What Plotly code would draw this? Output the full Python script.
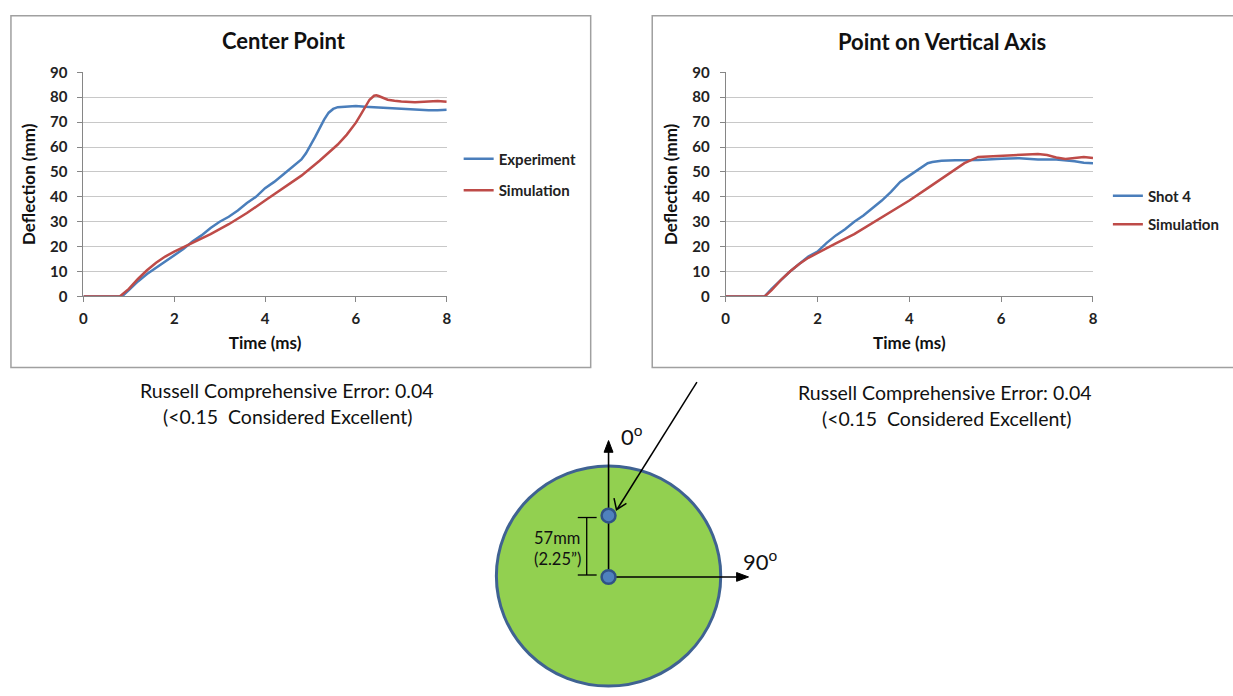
import plotly.graph_objects as go

W, H = 1233, 696

# ---------------- data ----------------
center_exp_t = [0, 0.4, 0.85, 1.0, 1.2, 1.4, 1.6, 1.8, 2.0, 2.2, 2.4, 2.6, 2.8, 3.0, 3.2, 3.4, 3.6, 3.8,
                4.0, 4.2, 4.4, 4.6, 4.8, 4.9, 5.0, 5.1, 5.2, 5.3, 5.4, 5.5, 5.6, 5.8, 6.0, 6.2, 6.4, 6.6,
                6.8, 7.0, 7.2, 7.4, 7.6, 7.8, 8.0]
center_exp_d = [0, 0, 0, 2.5, 6, 9, 11.5, 14, 16.5, 19, 22, 24.5, 27.5, 30, 32, 34.5, 37.5, 40,
                43.5, 46, 49, 52, 55, 57.5, 60.5, 64, 67.5, 71, 73.8, 75.3, 76, 76.3, 76.5, 76.2, 76, 75.8,
                75.5, 75.2, 75, 75, 74.8, 74.8, 75]
center_sim_t = [0, 0.4, 0.8, 1.0, 1.2, 1.4, 1.6, 1.8, 2.0, 2.4, 2.8, 3.2, 3.6, 4.0, 4.4, 4.8, 5.2,
                5.6, 5.8, 6.0, 6.1, 6.2, 6.3, 6.4, 6.45, 6.5, 6.6, 6.7, 6.85, 7.0, 7.3, 7.6, 7.8, 8.0]
center_sim_d = [0, 0, 0, 3, 7, 10.5, 13.5, 16, 18, 21.5, 25, 29, 33.5, 38.5, 43.5, 48.5, 54.5,
                61, 65, 69.8, 72.8, 76, 79, 80.6, 80.8, 80.5, 79.7, 79, 78.6, 78.3, 78, 78.3, 78.5, 78.2]

vert_exp_t = [0, 0.4, 0.85, 1.0, 1.2, 1.4, 1.6, 1.8, 2.0, 2.2, 2.4, 2.6, 2.8, 3.0, 3.2, 3.4, 3.6, 3.8,
              4.0, 4.2, 4.4, 4.5, 4.7, 5.0, 5.5, 6.0, 6.4, 6.8, 7.2, 7.6, 7.8, 8.0]
vert_exp_d = [0, 0, 0, 3, 6.5, 10, 13, 16, 18, 21.5, 24.5, 27, 30, 32.5, 35.5, 38.5, 42, 46,
              48.5, 51, 53.5, 54, 54.5, 54.7, 54.8, 55.3, 55.5, 55, 55, 54.3, 53.7, 53.5]
vert_sim_t = [0, 0.4, 0.85, 1.0, 1.2, 1.4, 1.6, 1.8, 2.0, 2.4, 2.8, 3.2, 3.6, 4.0, 4.4, 4.8,
              5.2, 5.5, 5.8, 6.2, 6.5, 6.8, 7.0, 7.2, 7.4, 7.6, 7.8, 8.0]
vert_sim_d = [0, 0, 0, 2.5, 6.5, 10, 13, 15.5, 17.5, 21.3, 25, 29.5, 34, 38.5, 43.5, 48.5,
              53.5, 56, 56.3, 56.5, 56.8, 57.2, 56.8, 55.8, 55.2, 55.5, 56, 55.6]

x_ticks = [0, 2, 4, 6, 8]
y_ticks = [0, 10, 20, 30, 40, 50, 60, 70, 80, 90]

BLUE = "#4a7ebb"
RED = "#be4b48"
FONT = "Lato"


def px(x):
    return x / W


def py(y):
    return 1 - y / H


fig = go.Figure()

fig.add_trace(go.Scatter(x=center_exp_t, y=center_exp_d, mode="lines", name="Experiment",
                         line=dict(color=BLUE, width=2.5), xaxis="x", yaxis="y",
                         legend="legend", legendgroup="a"))
fig.add_trace(go.Scatter(x=center_sim_t, y=center_sim_d, mode="lines", name="Simulation",
                         line=dict(color=RED, width=2.5), xaxis="x", yaxis="y",
                         legend="legend", legendgroup="b"))
fig.add_trace(go.Scatter(x=vert_exp_t, y=vert_exp_d, mode="lines", name="Shot 4",
                         line=dict(color=BLUE, width=2.5), xaxis="x2", yaxis="y2",
                         legend="legend2", legendgroup="c"))
fig.add_trace(go.Scatter(x=vert_sim_t, y=vert_sim_d, mode="lines", name="Simulation",
                         line=dict(color=RED, width=2.5), xaxis="x2", yaxis="y2",
                         legend="legend2", legendgroup="d"))

tickfont = dict(family=FONT, size=15, color="#222", weight="bold")
titlefont = dict(family=FONT, size=17, color="#111", weight="bold")

def xax(domain, anchor):
    return dict(domain=domain, anchor=anchor, range=[0, 8], tickvals=x_ticks,
                showgrid=False, zeroline=False, showline=True, linecolor="#868686", linewidth=1,
                ticks="outside", ticklen=5, tickcolor="#868686", tickfont=tickfont,
                ticklabelstandoff=4,
                title=dict(text="Time (ms)", font=titlefont, standoff=10), fixedrange=True)

def yax(domain, anchor):
    return dict(domain=domain, anchor=anchor, range=[0, 90], tickvals=y_ticks,
                showgrid=True, gridcolor="#c8c8c8", gridwidth=1, zeroline=False,
                showline=True, linecolor="#868686", linewidth=1,
                ticks="outside", ticklen=5, tickcolor="#868686", tickfont=tickfont,
                ticklabelstandoff=7,
                title=dict(text="Deflection (mm)", font=titlefont, standoff=10), fixedrange=True)

ydom = [py(294), py(64)]
fig.update_layout(
    width=W, height=H, margin=dict(l=0, r=0, t=0, b=0),
    paper_bgcolor="white", plot_bgcolor="white",
    font=dict(family=FONT),
    xaxis=xax([px(80), px(446)], "y"),
    yaxis=yax(ydom, "x"),
    xaxis2=xax([px(727), px(1097)], "y2"),
    yaxis2=yax(ydom, "x2"),
    legend=dict(x=px(458), y=py(136), xanchor="left", yanchor="top",
                font=dict(family=FONT, size=15, color="#222", weight="bold"),
                tracegroupgap=9, bgcolor="rgba(0,0,0,0)", itemwidth=30),
    legend2=dict(x=px(1112), y=py(174), xanchor="left", yanchor="top",
                 font=dict(family=FONT, size=15, color="#222", weight="bold"),
                 tracegroupgap=6, bgcolor="rgba(0,0,0,0)", itemwidth=30),
    showlegend=True,
)

shapes = []
def pline(x0, y0, x1, y1, w=1.6):
    shapes.append(dict(type="line", xref="paper", yref="paper", x0=px(x0), x1=px(x1),
                       y0=py(y0), y1=py(y1), line=dict(color="black", width=w), layer="above"))

def tri(points):
    p = "M " + " L ".join(f"{px(a):.6f},{py(b):.6f}" for a, b in points) + " Z"
    shapes.append(dict(type="path", xref="paper", yref="paper", path=p, fillcolor="black",
                       line=dict(color="black", width=1), layer="above"))

# chart frames
shapes.append(dict(type="rect", xref="paper", yref="paper", x0=px(7), x1=px(591), y0=py(367), y1=py(6),
                   line=dict(color="#a0a0a0", width=1.5), layer="below"))
shapes.append(dict(type="rect", xref="paper", yref="paper", x0=px(653), x1=px(1240), y0=py(367), y1=py(6),
                   line=dict(color="#a0a0a0", width=1.5), layer="below"))
# green disc
shapes.append(dict(type="circle", xref="paper", yref="paper", x0=px(496), x1=px(722), y0=py(694), y1=py(468),
                   fillcolor="#92d050", line=dict(color="#3f6292", width=3), layer="above"))
# diagram axes with arrowheads
pline(609, 582, 609, 452)
tri([(609, 442), (604.5, 454), (613.5, 454)])
pline(609, 582, 740, 582)
tri([(750, 582), (738, 577.5), (738, 586.5)])
# diagonal pointer arrow (open head)
pline(698, 382, 618, 512, w=1.5)
shapes.append(dict(type="path", xref="paper", yref="paper",
                   path=f"M {px(614.5):.6f},{py(501):.6f} L {px(617):.6f},{py(513):.6f} L {px(627):.6f},{py(506.5):.6f}",
                   line=dict(color="black", width=1.5), layer="above"))
# dimension bracket
pline(587, 580, 587, 521, w=1.3)
pline(578, 521, 597, 521, w=1.3)
pline(578, 580, 597, 580, w=1.3)
# dots
for cy in (519, 582):
    shapes.append(dict(type="circle", xref="paper", yref="paper", x0=px(602), x1=px(616),
                       y0=py(cy + 7), y1=py(cy - 7),
                       fillcolor="#4f81bd", line=dict(color="#2f5286", width=2.5), layer="above"))
fig.update_layout(shapes=shapes)

ann = []
def text(x, y, t, size, bold=False, xanchor="center", color="#111"):
    ann.append(dict(xref="paper", yref="paper", x=px(x), y=py(y), text=t, showarrow=False,
                    xanchor=xanchor, yanchor="middle",
                    font=dict(family=FONT, size=size, color=color, weight="bold" if bold else "normal")))

text(282, 31, "Center Point", 22, bold=True)
text(945, 32, "Point on Vertical Axis", 22, bold=True)
text(285, 391, "Russell Comprehensive Error: 0.04", 19.5)
text(286, 417, "(&lt;0.15  Considered Excellent)", 19.5)
text(948, 393, "Russell Comprehensive Error: 0.04", 19.5)
text(949, 419, "(&lt;0.15  Considered Excellent)", 19.5)
text(633, 437, "0<sup>o</sup>", 22)
text(762, 565, "90<sup>o</sup>", 22)
text(557, 542, "57mm", 16.5)
text(558, 564, "(2.25”)", 16.5)

fig.update_layout(annotations=ann)

fig.write_html("out.html")
